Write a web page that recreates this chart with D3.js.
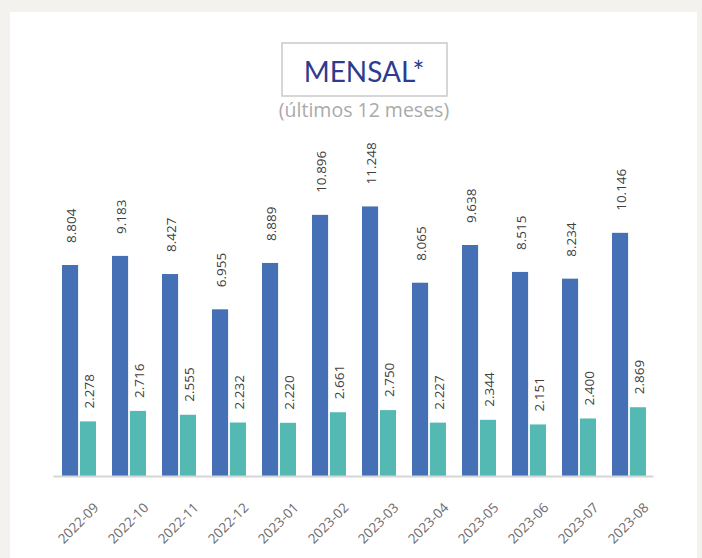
<!DOCTYPE html>
<html>
<head>
<meta charset="utf-8">
<script src="https://cdn.jsdelivr.net/npm/d3@7"></script>
<style>
  body { margin: 0; background: #f3f2ee; }
  svg { display: block; }
</style>
</head>
<body>
<svg id="chart"></svg>
<script>
// dados mensais (últimos 12 meses)
const months = ["2022-09", "2022-10", "2022-11", "2022-12", "2023-01", "2023-02",
                "2023-03", "2023-04", "2023-05", "2023-06", "2023-07", "2023-08"];
const seriesA = [8804, 9183, 8427, 6955, 8889, 10896, 11248, 8065, 9638, 8515, 8234, 10146];
const seriesB = [2278, 2716, 2555, 2232, 2220, 2661, 2750, 2227, 2344, 2151, 2400, 2869];
const seriesNames = ["a", "b"];

const W = 702, H = 558;
const colors = { a: "#4670b6", b: "#54b9b3" };
const labelGap = { a: 22, b: 13 };

const svg = d3.select("#chart").attr("width", W).attr("height", H);

// painel branco
svg.append("rect")
  .attr("x", 10).attr("y", 12)
  .attr("width", 687).attr("height", H)
  .attr("fill", "#fff");

// título
svg.append("rect")
  .attr("x", 282).attr("y", 43)
  .attr("width", 165).attr("height", 53)
  .attr("fill", "none")
  .attr("stroke", "#c9c9c9")
  .attr("stroke-width", 1.5);

svg.append("text")
  .attr("x", 364).attr("y", 82)
  .attr("text-anchor", "middle")
  .attr("font-family", "Lato, 'Open Sans', sans-serif")
  .attr("font-size", 28)
  .attr("fill", "#2e3b8e")
  .text("MENSAL*");

svg.append("text")
  .attr("x", 364).attr("y", 117)
  .attr("text-anchor", "middle")
  .attr("font-family", "'Open Sans', sans-serif")
  .attr("font-size", 19.5)
  .attr("fill", "#aaaaaa")
  .text("(últimos 12 meses)");

const ptBR = d3.formatLocale({ decimal: ",", thousands: ".", grouping: [3], currency: ["", ""] });
const fmt = ptBR.format(",d");

const x = d3.scaleBand().domain(months).range([53, 653]).paddingInner(0);
const xs = d3.scaleBand().domain(seriesNames).range([9, 43]).paddingInner(0.1);
const y = d3.scaleLinear().domain([0, 12000]).range([476, 188.4]);

const rows = months.map((m, i) => ({ month: m, a: seriesA[i], b: seriesB[i] }));

const g = svg.append("g");

const groups = g.selectAll("g.month")
  .data(rows)
  .join("g")
  .attr("class", "month")
  .attr("transform", d => `translate(${x(d.month)},0)`);

const cells = groups.selectAll("g.cell")
  .data(d => seriesNames.map(k => ({ key: k, value: d[k] })))
  .join("g")
  .attr("class", "cell");

cells.append("rect")
  .attr("x", d => xs(d.key))
  .attr("y", d => y(d.value))
  .attr("width", xs.bandwidth())
  .attr("height", d => y(0) - y(d.value))
  .attr("fill", d => colors[d.key]);

cells.append("text")
  .attr("transform", d => `translate(${xs(d.key) + xs.bandwidth() / 2 + 1},${y(d.value) - labelGap[d.key]}) rotate(-90)`)
  .attr("text-anchor", "start")
  .attr("dominant-baseline", "central")
  .attr("font-family", "'Open Sans', sans-serif")
  .attr("font-size", 13.5)
  .attr("fill", "#404040")
  .text(d => fmt(d.value));

// eixo x
const xAxis = svg.append("g")
  .attr("transform", `translate(0,${y(0)})`)
  .call(d3.axisBottom(x).tickSize(0).tickPadding(0));

xAxis.select(".domain")
  .attr("stroke", "#d6d6d6")
  .attr("stroke-width", 2);

xAxis.selectAll("text")
  .attr("font-family", "'Open Sans', sans-serif")
  .attr("font-size", 13.5)
  .attr("fill", "#6b6b6b")
  .attr("text-anchor", "middle")
  .attr("dy", null)
  .attr("dominant-baseline", "central")
  .attr("y", 0)
  .attr("transform", "translate(0,47) rotate(-45)");
</script>
</body>
</html>
